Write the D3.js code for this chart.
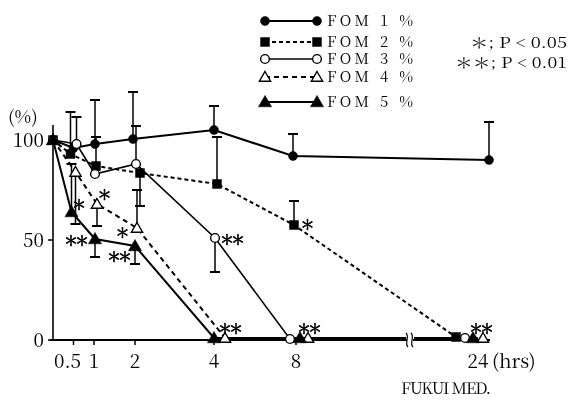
<!DOCTYPE html>
<html><head><meta charset="utf-8">
<script src="https://cdn.jsdelivr.net/npm/d3@7"></script>
<style>body{margin:0;background:#fff} svg{display:block;filter:grayscale(100%)} text{font-family:"Noto Serif CJK JP","Times New Roman",serif;fill:#000}</style>
</head><body>
<svg id="c" width="570" height="400"></svg>
<script>
// ---------------- data ----------------
const times = [0, 0.5, 1, 2, 4, 8, 24];
const seriesNames = ["FOM 1 %", "FOM 2 %", "FOM 3 %", "FOM 4 %", "FOM 5 %"];
const fom1 = [100, 96, 98, 100.5, 105, 92, 90];
const fom2 = [100, 93, 87, 83.5, 78, 57.5, 1.5];
const fom3 = [100, 98, 83, 88, 51, 0.5, 1];
const fom4 = [100, 84, 68, 56, 1, 1, 1];
const fom5 = [100, 64, 50.5, 47, 1, 1, 1];
// one-sided error bar ends (null = none)
const fom1Err = [null, null, 120, 124, 117, 103, 109];
const fom2Err = [null, 114, 101.5, 67, 101.5, 69.5, null];
const fom3Err = [null, 111.5, null, 107, 34, null, null];
const fom4Err = [null, 58, 57, 75, null, null, null];
const fom5Err = [null, 88, 41.5, 38, null, null, null];
const yTicks = [0, 50, 100];
const xTicks = [0.5, 1, 2, 4, 8, 24];
const xTickLabels = ["0.5", "1", "2", "4", "8", "24"];
const sigSeries = [4, 4, 3, 3, 4, 2, 3, 1, 3, 3];
const sigTimes = [0.5, 1, 1, 2, 2, 4, 4, 8, 8, 24];
const sigText = ["*", "**", "*", "*", "**", "**", "**", "*", "**", "**"];

// ---------------- style / layout ----------------
const dodge = [
  [0, 0, 1, -2, 0, -3, 11],
  [0, -3, 2, 5, 3, -2, -22],
  [0, 3, 1, 1, 1, -6, -13],
  [0, 2, 3, 2, 11, 12, 5],
  [0, -2, 1, 0, 0, 4, -5]
];
const sigOffset = [[6, -9], [-20, 0], [6, -11], [-16, 3], [-17, 9], [16, 0], [4, -11], [12, -2], [0, -11], [-3, -11]];
const styles = [
  {dash: null, width: 2, sym: d3.symbolCircle, size: 64, fill: "#000"},
  {dash: "4,3", width: 2, sym: d3.symbolSquare, size: 80, fill: "#000"},
  {dash: null, width: 1.6, sym: d3.symbolCircle, size: 60, fill: "#fff"},
  {dash: "5,4", width: 2, sym: d3.symbolTriangle, size: 55, fill: "#fff"},
  {dash: null, width: 2, sym: d3.symbolTriangle, size: 75, fill: "#000"}
];
const values = [fom1, fom2, fom3, fom4, fom5];
const errs = [fom1Err, fom2Err, fom3Err, fom4Err, fom5Err];
const STAR = "\uFF0A";

const svg = d3.select("#c");
svg.append("rect").attr("width", 570).attr("height", 400).attr("fill", "#fff");
const x = d3.scaleLinear().domain([0, 2, 4, 8, 24]).range([53, 135, 214, 296, 478]);
const y = d3.scaleLinear().domain([0, 100]).range([340, 140]);

const px = (s, i) => x(times[i]) + dodge[s][i];

// lines
values.forEach((vals, s) => {
  const line = d3.line().x((d, i) => px(s, i)).y(d => y(d));
  svg.append("path").attr("d", line(vals)).attr("fill", "none")
    .attr("stroke", "#000").attr("stroke-width", styles[s].width)
    .attr("stroke-dasharray", styles[s].dash);
});

// axis break gap
svg.append("rect").attr("x", 406).attr("y", 330).attr("width", 8).attr("height", 14).attr("fill", "#fff");

// axes
const g = svg.append("g");
g.append("line").attr("x1", 50).attr("x2", 407).attr("y1", y(0)).attr("y2", y(0)).attr("stroke", "#000").attr("stroke-width", 2);
g.append("line").attr("x1", 413).attr("x2", 490).attr("y1", y(0)).attr("y2", y(0)).attr("stroke", "#000").attr("stroke-width", 2);
g.append("line").attr("x1", 53).attr("x2", 53).attr("y1", 125).attr("y2", y(0)).attr("stroke", "#000").attr("stroke-width", 1.6);
[406, 411].forEach(bx => {
  g.append("path").attr("d", `M${bx},333 C${bx + 4},337 ${bx - 2},343 ${bx + 2},347`)
    .attr("fill", "none").attr("stroke", "#000").attr("stroke-width", 1.2);
});
g.selectAll(".yt").data(yTicks).join("line").attr("x1", 48).attr("x2", 53)
  .attr("y1", d => y(d)).attr("y2", d => y(d)).attr("stroke", "#000").attr("stroke-width", 1.5);
g.selectAll(".ytl").data(yTicks).join("text").attr("x", 44).attr("y", d => y(d) + 7)
  .attr("text-anchor", "end").attr("font-size", 19).text(d => d);
g.selectAll(".xt").data(xTicks.slice(0, 5)).join("line").attr("x1", d => x(d)).attr("x2", d => x(d))
  .attr("y1", y(0)).attr("y2", y(0) + 5).attr("stroke", "#000").attr("stroke-width", 1.5);
g.selectAll(".xtl").data(xTicks).join("text")
  .attr("x", (d, i) => x(d) + (i === 0 ? -6 : 0)).attr("y", 368)
  .attr("text-anchor", "middle").attr("font-size", 19)
  .text((d, i) => xTickLabels[i]);
g.append("text").attr("x", 492).attr("y", 368).attr("font-size", 19).text("(hrs)");
g.append("text").attr("x", 8).attr("y", 123).attr("font-size", 18).text("(%)");
g.append("text").attr("x", 401).attr("y", 394).attr("font-size", 16)
  .attr("textLength", 90).attr("lengthAdjust", "spacing").text("FUKUI MED.");

// error bars
errs.forEach((ev, s) => {
  ev.forEach((e, i) => {
    if (e == null) return;
    const cx = px(s, i);
    g.append("line").attr("x1", cx).attr("x2", cx).attr("y1", y(values[s][i])).attr("y2", y(e))
      .attr("stroke", "#000").attr("stroke-width", 1.5);
    g.append("line").attr("x1", cx - 5).attr("x2", cx + 5).attr("y1", y(e)).attr("y2", y(e))
      .attr("stroke", "#000").attr("stroke-width", 2);
  });
});

// markers
values.forEach((vals, s) => {
  const st = styles[s];
  const sym = d3.symbol().type(st.sym).size(st.size);
  vals.forEach((v, i) => {
    svg.append("path").attr("d", sym())
      .attr("transform", `translate(${px(s, i)},${y(v) + (st.sym === d3.symbolTriangle ? 1 : 0)})`)
      .attr("fill", st.fill).attr("stroke", "#000").attr("stroke-width", st.fill === "#fff" ? 1.4 : 0.5);
  });
});

// significance marks
sigText.forEach((t, k) => {
  const s = sigSeries[k];
  const i = times.indexOf(sigTimes[k]);
  svg.append("text").attr("x", px(s, i) + sigOffset[k][0]).attr("y", y(values[s][i]) + sigOffset[k][1])
    .attr("text-anchor", "middle").attr("dominant-baseline", "central")
    .attr("font-size", 14).attr("letter-spacing", -3)
    .attr("stroke", "#000").attr("stroke-width", 0.7).text(t.replace(/\*/g, STAR));
});

// legend
const legY = [21, 42, 59, 77, 102];
seriesNames.forEach((name, s) => {
  const st = styles[s];
  const ly = legY[s];
  svg.append("line").attr("x1", 265).attr("x2", 317).attr("y1", ly).attr("y2", ly)
    .attr("stroke", "#000").attr("stroke-width", st.width).attr("stroke-dasharray", st.dash);
  const sym = d3.symbol().type(st.sym).size(st.size);
  [265, 317].forEach(lx => {
    svg.append("path").attr("d", sym()).attr("transform", `translate(${lx},${ly + (st.sym === d3.symbolTriangle ? 1 : 0)})`)
      .attr("fill", st.fill).attr("stroke", "#000").attr("stroke-width", st.fill === "#fff" ? 1.4 : 0.5);
  });
  svg.append("text").attr("x", 327).attr("y", ly + 5).attr("font-size", 15)
    .attr("textLength", 86).attr("lengthAdjust", "spacing").text(name);
});
svg.append("text").attr("x", 470).attr("y", 48).attr("font-size", 15)
  .attr("textLength", 97).attr("lengthAdjust", "spacingAndGlyphs").text(`${STAR}; P < 0.05`);
svg.append("text").attr("x", 455).attr("y", 68).attr("font-size", 15)
  .attr("textLength", 112).attr("lengthAdjust", "spacingAndGlyphs").text(`${STAR}${STAR}; P < 0.01`);
</script>
</body></html>
